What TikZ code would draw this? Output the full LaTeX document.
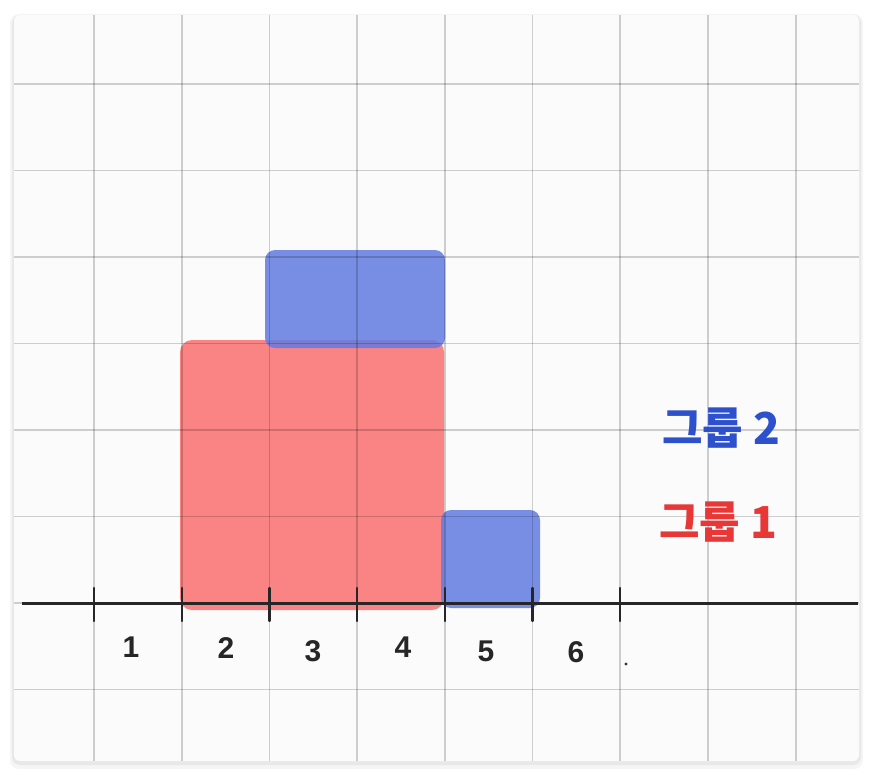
\documentclass[tikz,border=0pt]{standalone}
\usepackage{fontspec}
\setmainfont{Liberation Sans}
\newfontfamily\krfont{Noto Sans CJK KR}
\definecolor{cardbg}{RGB}{251,251,251}
\definecolor{redfill}{RGB}{250,132,132}
\definecolor{bluefill}{RGB}{98,123,226}
\definecolor{legblue}{RGB}{45,80,205}
\definecolor{legred}{RGB}{232,55,55}
\tikzset{
  gridline/.style={draw=black, draw opacity=0.18, line width=1.8pt},
  axisline/.style={draw=black!85, line width=3pt},
  tickline/.style={draw=black!85, line width=2.2pt, line cap=round},
  redbar/.style={fill=redfill, rounded corners=12pt},
  bluebar/.style={fill=bluefill, fill opacity=0.85, rounded corners=10pt},
  numlabel/.style={font=\bfseries\fontsize{30}{34}\selectfont, text=black!85, inner sep=0pt},
  leglabel/.style={font=\krfont\bfseries\fontsize{44}{50}\selectfont, inner sep=0pt}
}
\begin{document}
\begin{tikzpicture}[x=1pt,y=-1pt]
\useasboundingbox (0,0) rectangle (874,776);
\fill[white] (0,0) rectangle (874,776);
% card shadow and card
\fill[black, opacity=0.04, rounded corners=9pt] (10,14) rectangle (863,769);
\fill[black, opacity=0.05, rounded corners=8pt] (12,15) rectangle (861,765);
\fill[cardbg, rounded corners=6pt] (14,15) rectangle (859,761);
% bars
\fill[redbar] (180,340) rectangle (444,610);
\fill[bluebar] (265,250) rectangle (445,348);
\fill[bluebar] (441,510) rectangle (540,608);
% grid
\foreach \i in {0,...,8} {
  \draw[gridline] ({94+87.7*\i},15) -- ({94+87.7*\i},761);
}
\foreach \j in {0,...,7} {
  \draw[gridline] (14,{84+86.5*\j}) -- (859,{84+86.5*\j});
}
% axis
\coordinate (axL) at (22,603);
\coordinate (axR) at (858,603);
\draw[axisline] (axL) -- (axR);
\foreach \i in {0,...,6} {
  \coordinate (tt\i) at ({94+87.7*\i},588);
  \coordinate (tb\i) at ({94+87.7*\i},621);
  \draw[tickline] (tt\i) -- (tb\i);
}
% numbers
\node[numlabel] (n1) at (131,647) {1};
\node[numlabel] (n2) at (226,648) {2};
\node[numlabel] (n3) at (313,651) {3};
\node[numlabel] (n4) at (403,647) {4};
\node[numlabel] (n5) at (486,651) {5};
\node[numlabel] (n6) at (576,652) {6};
\fill[black!80] (626,664) circle (1.6pt);
% legend
\node[leglabel, text=legblue] (g2) at (721,428) {그룹 2};
\node[leglabel, text=legred] (g1) at (718,522) {그룹 1};
\end{tikzpicture}
\end{document}
